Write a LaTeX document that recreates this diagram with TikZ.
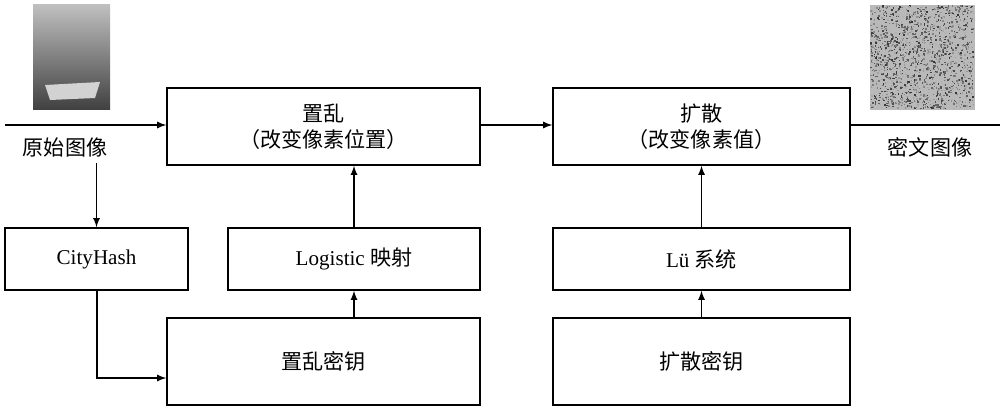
\documentclass[tikz,border=0pt]{standalone}
\usepackage{fontspec}
\setmainfont{Liberation Serif}
\newfontfamily\cjk{Noto Sans CJK SC}
\usetikzlibrary{arrows,positioning}
\begin{document}
\begin{tikzpicture}[x=0.02cm,y=-0.02cm,
  every node/.style={font=\fontsize{12}{15}\selectfont},
  blk/.style={draw,thick,align=center,inner sep=0pt},
  line/.style={thick},
  arr/.style={thick,-latex}]

  \useasboundingbox (0,0) rectangle (1000,412);

  % pictures
  \shade[top color=gray!50,bottom color=black!75] (33,5) rectangle (110,110);
  \fill[gray!35] (45,85) -- (100,82) -- (95,98) -- (50,100) -- cycle;
  \fill[gray!55] (870,5) rectangle (975,110);
  \pgfmathsetseed{7}
  \foreach \i in {1,...,1500}{
    \pgfmathsetmacro{\px}{870+rnd*103}
    \pgfmathsetmacro{\py}{5+rnd*103}
    \pgfmathsetmacro{\pc}{int(30+rnd*50)}
    \fill[black!\pc] (\px,\py) rectangle ++(1.5,1.5);
  }

  % boxes
  \node[blk,minimum width=6.26cm,minimum height=1.54cm] (scr) at (323.5,126.5) {{\cjk 置乱}\\{\cjk （改变像素位置）}};
  \node[blk,minimum width=5.94cm,minimum height=1.54cm] (dif) at (701.5,126.5) {{\cjk 扩散}\\{\cjk （改变像素值）}};
  \node[blk,minimum width=3.66cm,minimum height=1.24cm] (hash) at (96.5,259) {CityHash};
  \node[blk,minimum width=5.04cm,minimum height=1.24cm] (logi) at (354,259) {Logistic {\cjk 映射}};
  \node[blk,minimum width=5.94cm,minimum height=1.24cm] (lu) at (701.5,259) {Lü {\cjk 系统}};
  \node[blk,minimum width=6.26cm,minimum height=1.74cm] (skey) at (323.5,361.5) {\cjk 置乱密钥};
  \node[blk,minimum width=5.94cm,minimum height=1.74cm] (dkey) at (701.5,361.5) {\cjk 扩散密钥};

  \coordinate (in) at (5,125);
  \coordinate (out) at (1000,125);
  \node (orig) at (65,147) {\cjk 原始图像};
  \node (ciph) at (930,147) {\cjk 密文图像};
  \coordinate (bend) at (97,378);

  % connectors
  \draw[arr] (in) -- (scr.west |- in);
  \draw[arr] (scr.east |- in) -- (dif.west |- in);
  \draw[line] (dif.east |- in) -- (out);
  \draw[arr] (orig.south -| hash.north) -- (hash.north);
  \draw[arr] (logi.north) -- (logi.north |- scr.south);
  \draw[arr] (lu.north) -- (lu.north |- dif.south);
  \draw[arr] (skey.north -| logi.south) -- (logi.south);
  \draw[arr] (dkey.north) -- (dkey.north |- lu.south);
  \draw[arr] (hash.south -| bend) -- (bend) -- (skey.west |- bend);
\end{tikzpicture}
\end{document}
